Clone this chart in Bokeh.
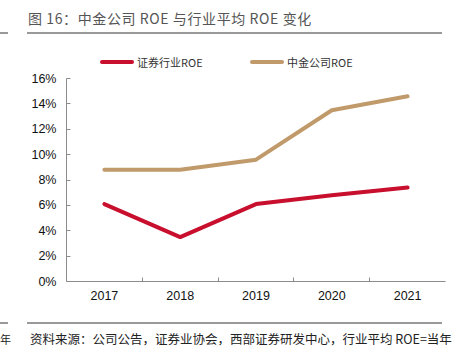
from bokeh.plotting import figure
from bokeh.models import Range1d, FixedTicker, NumeralTickFormatter, Div
from bokeh.layouts import column
from bokeh.embed import file_html
from bokeh.resources import INLINE

years = [2017, 2018, 2019, 2020, 2021]
industry_roe = [0.061, 0.035, 0.061, 0.068, 0.074]
cicc_roe = [0.088, 0.088, 0.096, 0.135, 0.146]
y_ticks = [0.0, 0.02, 0.04, 0.06, 0.08, 0.10, 0.12, 0.14, 0.16]
title_text = "图 16：中金公司 ROE 与行业平均 ROE 变化"
source_text = "资料来源：公司公告，证券业协会，西部证券研发中心，行业平均 ROE=当年"
series_names = ["证券行业ROE", "中金公司ROE"]

RED = "#C8102E"
TAN = "#C09A6B"
GRAY = "#8C8C8C"

font_cjk = "font-family:'Noto Sans CJK SC';"


def legend_item(left, bar_w, color, label):
    return (
        f'<div style="position:absolute;left:{left}px;top:60px;width:{bar_w}px;height:4px;'
        f'border-radius:2px;background:{color};"></div>'
        f'<div style="position:absolute;left:{left + bar_w + 3}px;top:54px;height:16px;line-height:16px;'
        f'white-space:nowrap;{font_cjk}font-size:11px;color:#333333;">{label}</div>'
    )


top = Div(
    text=(
        '<div style="position:relative;width:460px;height:70px;">'
        '<div style="position:absolute;left:28px;top:8px;height:20px;line-height:20px;white-space:nowrap;'
        + font_cjk + 'font-size:14px;letter-spacing:0.6px;color:#555555;">'
        + title_text + '</div>'
        '<div style="position:absolute;left:0px;top:32px;width:8px;height:2px;background:#999999;"></div>'
        '<div style="position:absolute;left:27px;top:32px;width:415px;height:2px;background:#999999;"></div>'
        + legend_item(100, 34, RED, series_names[0])
        + legend_item(250, 34, TAN, series_names[1])
        + '</div>'
    ),
    width=460, height=70, margin=(0, 0, 0, 0),
)

p = figure(width=452, height=240, output_backend="svg", toolbar_location=None,
           x_range=Range1d(2016.5, 2021.5), y_range=Range1d(0, 0.16),
           min_border_left=66, min_border_right=7, min_border_top=8, min_border_bottom=29,
           margin=(0, 0, 0, 0))
p.outline_line_color = None
p.xgrid.visible = False
p.ygrid.visible = False

p.line(years, industry_roe, line_color=RED, line_width=4, line_cap="round", line_join="round")
p.line(years, cicc_roe, line_color=TAN, line_width=4, line_cap="round", line_join="round")

p.xaxis.ticker = FixedTicker(ticks=years, minor_ticks=[2017.5, 2018.5, 2019.5, 2020.5])
p.xaxis.major_label_overrides = {y: str(y) for y in years}
p.xaxis.major_tick_in = 0
p.xaxis.major_tick_out = 0
p.xaxis.minor_tick_in = 4
p.xaxis.minor_tick_out = 0
p.xaxis.minor_tick_line_color = GRAY
p.xaxis.axis_line_color = GRAY
p.xaxis.major_label_standoff = 9
p.xaxis.major_label_text_font = "Liberation Sans"
p.xaxis.major_label_text_font_size = "12.5px"
p.xaxis.major_label_text_color = "#111111"

p.yaxis.ticker = FixedTicker(ticks=y_ticks)
p.yaxis.formatter = NumeralTickFormatter(format="0%")
p.yaxis.major_tick_in = 4
p.yaxis.major_tick_out = 0
p.yaxis.minor_tick_line_color = None
p.yaxis.major_tick_line_color = GRAY
p.yaxis.axis_line_color = GRAY
p.yaxis.major_label_standoff = 10
p.yaxis.major_label_text_font = "Liberation Sans"
p.yaxis.major_label_text_font_size = "12.5px"
p.yaxis.major_label_text_color = "#111111"

bottom = Div(
    text=(
        '<div style="position:relative;width:460px;height:45px;overflow:hidden;">'
        '<div style="position:absolute;left:0px;top:12px;width:8px;height:2px;background:#999999;"></div>'
        '<div style="position:absolute;left:27px;top:12px;width:415px;height:2px;background:#999999;"></div>'
        '<div style="position:absolute;left:0px;top:21px;height:16px;line-height:16px;white-space:nowrap;'
        + font_cjk + 'font-size:11px;color:#222222;">年</div>'
        '<div style="position:absolute;left:30px;top:21px;height:16px;line-height:16px;white-space:nowrap;'
        + font_cjk + 'font-size:12.5px;color:#222222;">' + source_text + '</div>'
        '</div>'
    ),
    width=460, height=45, margin=(0, 0, 0, 0),
)

layout = column(top, p, bottom, spacing=0)
open("out.html", "w").write(file_html(layout, INLINE))
